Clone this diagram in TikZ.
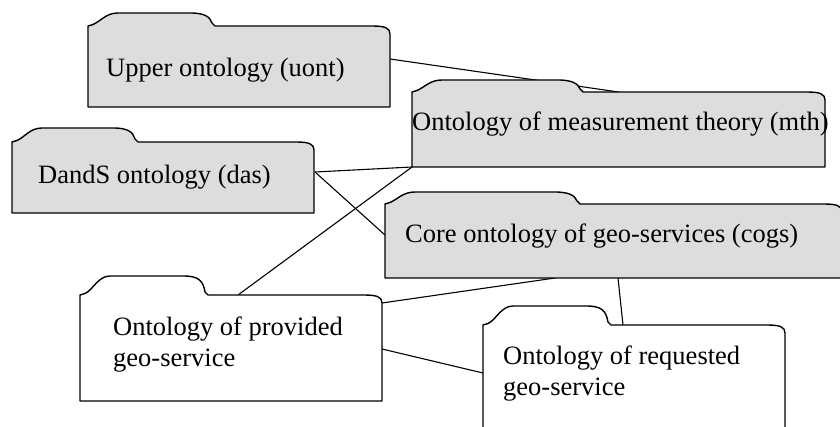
\documentclass[tikz,border=0pt]{standalone}
\usepackage{fontspec}
\setmainfont{Liberation Serif}
\usetikzlibrary{calc}
\definecolor{boxgray}{HTML}{DDDDDD}
\tikzset{
  folder/.style={draw=black, line width=1.4pt, fill=boxgray, line join=round},
  folderw/.style={draw=black, line width=1.4pt, fill=white, line join=round},
  body/.style={inner sep=0pt, outer sep=0pt, anchor=north west},
  lbl/.style={anchor=base west, inner sep=0pt, font=\fontsize{26.5}{31}\selectfont, align=left},
  link/.style={draw=black, line width=1.1pt}
}
% x0 y0 x1 y1 tabwidth tabheight (y grows downwards)
\newcommand\folderpath[6]{%
  (#1,#4) -- (#1,#2) -- ({#1+5},{#2-1.5})
  .. controls ({#1+13},{#2-5}) and ({#1+18},{#2-#6}) .. ({#1+30},{#2-#6})
  -- ({#1+#5-25},{#2-#6})
  .. controls ({#1+#5-10},{#2-#6}) and ({#1+#5-5},{#2-#6+4}) .. ({#1+#5-3},{#2-3})
  .. controls ({#1+#5-2},{#2-1}) .. ({#1+#5},{#2})
  -- ({#3-18},{#2})
  .. controls ({#3-5},{#2}) and ({#3},{#2+2}) .. ({#3},{#2+8})
  -- (#3,#4) -- cycle}
\begin{document}
\begin{tikzpicture}[x=1pt,y=-1pt]
\useasboundingbox (0,0) rectangle (840,427);
\clip (0,0) rectangle (840,427);
% box bodies (named, invisible) for connectors
\node[body, minimum width=302pt, minimum height=81pt] (uont) at (88,26) {};
\node[body, minimum width=302pt, minimum height=71pt] (das) at (12,142) {};
\node[body, minimum width=413pt, minimum height=75pt] (mth) at (412,92) {};
\node[body, minimum width=457pt, minimum height=74pt] (cogs) at (385,204) {};
\node[body, minimum width=302pt, minimum height=106pt] (prov) at (80,295) {};
\node[body, minimum width=302pt, minimum height=115pt] (req) at (483,325) {};
% connectors
\draw[link] ($(uont.north east)+(0,33)$) -- (mth.north);
\draw[link] ($(das.north east)+(1,30)$) -- (mth.south west);
\draw[link] ($(das.north east)+(1,30)$) -- ($(cogs.north west)+(0,31)$);
\draw[link] ($(prov.north west)+(158,0)$) -- (mth.south west);
\draw[link] ($(prov.north east)+(0,8)$) -- ($(cogs.south west)+(170,0)$);
\draw[link] ($(prov.north east)+(0,54)$) -- ($(req.north west)+(0,48)$);
\draw[link] ($(cogs.south west)+(233,0)$) -- ($(req.north west)+(140,0)$);
% folders
\draw[folder]  \folderpath{88}{26}{390}{107}{127}{13};
\draw[folder]  \folderpath{12}{142}{314}{213}{126}{14};
\draw[folder]  \folderpath{412}{92}{825}{167}{171}{12};
\draw[folder]  \folderpath{385}{204}{842}{278}{195}{12};
\draw[folderw] \folderpath{80}{295}{382}{401}{128}{19};
\draw[folderw] \folderpath{483}{325}{785}{440}{128}{19};
% texts (multi-line nodes: base = last line)
\node[lbl] (tuont) at (106,77) {Upper ontology (uont)};
\node[lbl] (tdas) at (38,184) {DandS ontology (das)};
\node[lbl] (tmth) at (412,131) {Ontology of measurement theory (mth)};
\node[lbl] (tcogs) at (405,243) {Core ontology of geo-services (cogs)};
\node[lbl] (tprov) at (113,366) {Ontology of provided\\geo-service};
\node[lbl] (treq) at (503,395) {Ontology of requested\\geo-service};
\end{tikzpicture}
\end{document}
